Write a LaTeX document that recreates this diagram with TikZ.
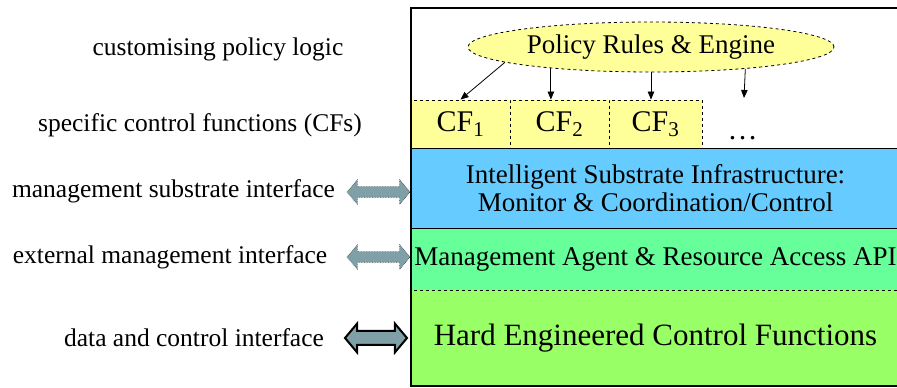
\documentclass[tikz,border=0pt]{standalone}
\usepackage{fontspec}
\setmainfont{Liberation Serif}
\usetikzlibrary{shapes.geometric,shapes.arrows,arrows.meta}
\definecolor{yelc}{RGB}{255,255,153}
\definecolor{bluec}{RGB}{102,204,255}
\definecolor{grnA}{RGB}{102,255,153}
\definecolor{grnB}{RGB}{153,255,102}
\definecolor{arrc}{RGB}{128,160,168}
\begin{document}
\begin{tikzpicture}[x=1pt,y=1pt,
  lbl/.style={font=\fontsize{25.5}{30}\selectfont, inner sep=0},
  cfbox/.style={draw, dashed, line width=0.8pt, fill=yelc, minimum height=48, inner sep=0, font=\fontsize{30}{36}\selectfont},
  layer/.style={inner sep=0, minimum width=489},
  link/.style={-{Triangle[length=8pt,width=6.5pt]}, line width=0.8pt},
  iface/.style={double arrow, fill=arrc, inner xsep=0, double arrow tip angle=100}]
\clip (0,0) rectangle (897,388);
% policy ellipse
\node[ellipse, draw, dashed, line width=0.8pt, fill=yelc, minimum width=366, minimum height=50, inner sep=0, font=\fontsize{27}{32}\selectfont] (ell) at (651,341) {Policy Rules \& Engine};
% control functions
\node[cfbox, minimum width=99] (cf1) at (460.5,264) {CF\textsubscript{1}};
\node[cfbox, minimum width=99] (cf2) at (559.5,264) {CF\textsubscript{2}};
\node[cfbox, minimum width=93] (cf3) at (655.5,264) {CF\textsubscript{3}};
\node[font=\fontsize{30}{36}\selectfont, inner sep=0, anchor=base] (dots) at (742.5,248) {\ldots};
\coordinate (tip4) at (744,290);
% layers
\node[layer, fill=grnA, minimum height=62, font=\fontsize{27}{32}\selectfont] (mgmt) at (655.5,129) {Management Agent \& Resource Access API};
\node[layer, fill=grnB, draw, dashed, line width=0.8pt, minimum height=96, font=\fontsize{31}{36}\selectfont] (hard) at (655.5,50) {Hard Engineered Control Functions};
\node[layer, fill=bluec, draw, line width=0.8pt, minimum height=80, align=center, font=\fontsize{27}{28}\selectfont] (isi) at (655.5,200) {Intelligent Substrate Infrastructure:\\Monitor \& Coordination/Control};
% outer frame
\draw[line width=2pt] (905,380) -- (411,380) -- (411,2) -- (905,2);
% policy links
\draw[link] (ell.186) -- (cf1.north);
\draw[link] (ell.192) -- (ell.192 |- cf2.north);
\draw[link] (ell.south) -- (ell.south |- cf3.north);
\draw[link] (ell.347) -- (tip4);
% left labels
\node[lbl] (l1) at (218,339) {customising policy logic};
\node[lbl] (l2) at (200,263) {specific control functions (CFs)};
\node[lbl] (l3) at (173.5,197) {management substrate interface};
\node[lbl] (l4) at (170,131) {external management interface};
\node[lbl] (l5) at (194,50) {data and control interface};
% interface arrows
\node[iface, draw=black!75, densely dotted, line width=0.6pt, inner ysep=5pt, double arrow head extend=7pt, minimum width=24pt, minimum height=63pt] (ia1) at (378.5,196) {};
\node[iface, draw=black!75, densely dotted, line width=0.6pt, inner ysep=5pt, double arrow head extend=7pt, minimum width=24pt, minimum height=63pt] (ia2) at (378.5,131) {};
\node[iface, draw=black, line width=2pt, inner ysep=6pt, double arrow head extend=7.5pt, minimum width=27pt, minimum height=62pt] (ia3) at (376,50) {};
\end{tikzpicture}
\end{document}
